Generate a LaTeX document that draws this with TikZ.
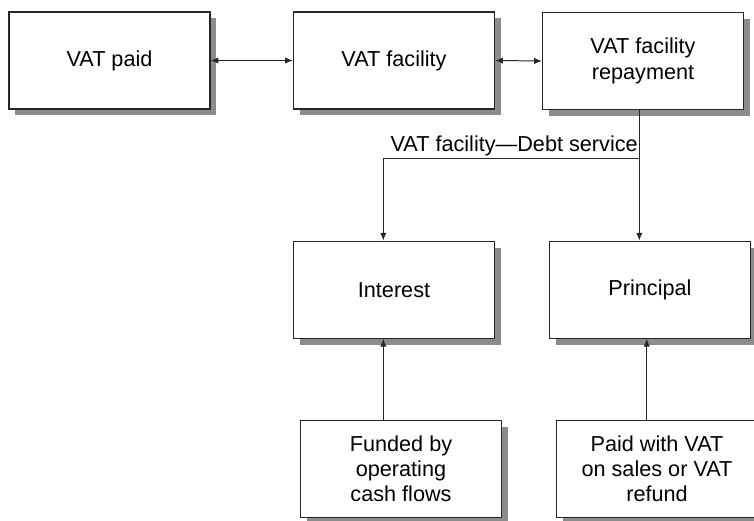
\documentclass[tikz,border=0pt]{standalone}
\usepackage{fontspec}
\setmainfont{Liberation Sans}
\usetikzlibrary{arrows.meta, positioning, calc, shadows}

\begin{document}
\begin{tikzpicture}[
    x=0.025cm, y=-0.025cm,
    >={Latex[length=5.5pt, width=4.5pt]},
    vatbox/.style={
        rectangle, draw=black!85, line width=0.9pt, fill=white,
        minimum width=5.025cm, minimum height=2.425cm, inner sep=0pt,
        align=center, font=\fontsize{15.4}{18.6}\selectfont,
        drop shadow={shadow xshift=0.16cm, shadow yshift=-0.16cm,
                     fill=black!45, opacity=1}
    },
    notebox/.style={vatbox, font=\fontsize{15.4}{17.9}\selectfont},
    arr/.style={draw=black!85, line width=0.7pt, ->},
    dblarr/.style={draw=black!85, line width=0.7pt, <->},
    lbl/.style={font=\fontsize{15.4}{18.6}\selectfont, inner sep=0pt},
]
\useasboundingbox (0,0) rectangle (754,520);

% ================================================================
%  TOP ROW
% ================================================================
\node[vatbox] (paid) at (109.5, 60.5) {VAT paid};
\node[vatbox] (fac)  at (394, 60.5)   {VAT facility};
\node[vatbox] (rep)  at (643, 61)     {VAT facility\\repayment};

\draw[dblarr] (paid.east) -- (fac.west);
\draw[dblarr] (fac.east) -- (rep.west);

% ================================================================
%  DEBT SERVICE
% ================================================================
\node[vatbox] (interest)  at (394, 289.7) {Interest};
\node[vatbox] (principal) at (650, 289.7) {Principal};

\coordinate (split)   at (639.3, 158);
\coordinate (lcorner) at (383.3, 158);

\draw[arr] (split |- rep.south) -- (split) -- (lcorner) -- (lcorner |- interest.north);
\draw[arr] (split) -- (split |- principal.north);
\node[lbl, anchor=base east] at (638, 151.5) {VAT facility---Debt service};

% ================================================================
%  FUNDING
% ================================================================
\node[notebox] (funded)  at (401, 468.7) {Funded by\\operating\\cash flows};
\node[notebox] (paidvat) at (657, 468.7) {Paid with VAT\\on sales or VAT\\refund};

\coordinate (rfund) at (646.7, 380);

\draw[arr] (funded.north -| lcorner) -- (interest.south -| lcorner);
\draw[arr] (paidvat.north -| rfund) -- (principal.south -| rfund);

\end{tikzpicture}
\end{document}
